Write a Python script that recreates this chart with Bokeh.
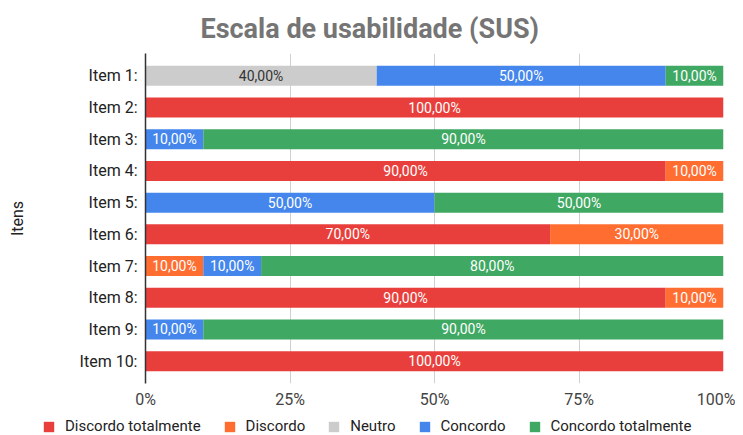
from bokeh.plotting import figure
from bokeh.layouts import column
from bokeh.models import (ColumnDataSource, Legend, LegendItem, FactorRange, Range1d,
                          FixedTicker, PrintfTickFormatter)
from bokeh.core.properties import value
from bokeh.embed import file_html
from bokeh.resources import INLINE

items = ["Item 1:", "Item 2:", "Item 3:", "Item 4:", "Item 5:",
         "Item 6:", "Item 7:", "Item 8:", "Item 9:", "Item 10:"]
series = ["Discordo totalmente", "Discordo", "Neutro", "Concordo", "Concordo totalmente"]
discordo_totalmente = [0, 100, 0, 90, 0, 70, 0, 90, 0, 100]
discordo = [0, 0, 0, 10, 0, 30, 10, 10, 0, 0]
neutro = [40, 0, 0, 0, 0, 0, 0, 0, 0, 0]
concordo = [50, 0, 10, 0, 50, 0, 10, 0, 10, 0]
concordo_totalmente = [10, 0, 90, 0, 50, 0, 80, 0, 90, 0]
x_ticks = [0, 25, 50, 75, 100]

colors = ["#e93f3c", "#ff6d31", "#cccccc", "#4486ec", "#3fa862"]
label_colors = ["white", "white", "#333333", "white", "white"]
FONT = "Roboto"

values = [discordo_totalmente, discordo, neutro, concordo, concordo_totalmente]
data = {"items": items}
for name, vals in zip(series, values):
    data[name] = vals
source = ColumnDataSource(data)

p = figure(width=735, height=411, output_backend="svg", toolbar_location=None,
           y_range=FactorRange(factors=items[::-1], range_padding=0.205,
                               range_padding_units="absolute"),
           x_range=Range1d(0, 100),
           min_border_left=145, min_border_right=12, min_border_top=53, min_border_bottom=25)
p.frame_align = False

renderers = p.hbar_stack(series, y="items", height=0.63, color=colors,
                         line_color=None, source=source)

# segment labels
lx, ly, lt, lc = [], [], [], []
cum = [0] * len(items)
for k, vals in enumerate(values):
    for i, v in enumerate(vals):
        if v > 0:
            lx.append(cum[i] + v / 2)
            ly.append(items[i])
            lt.append(("%.2f" % v).replace(".", ",") + "%")
            lc.append(label_colors[k])
        cum[i] += v
p.text(x="x", y="y", text="t", text_color="c",
       source=ColumnDataSource(dict(x=lx, y=ly, t=lt, c=lc)),
       text_align="center", text_baseline="middle",
       text_font=value(FONT), text_font_size="14px")

# title
p.title.text = "Escala de usabilidade (SUS)"
p.title.align = "left"
p.title.offset = 55
p.title.standoff = 18
p.title.text_font = FONT
p.title.text_font_size = "27px"
p.title.text_font_style = "bold"
p.title.text_color = "#757575"

# axes
p.xaxis.ticker = FixedTicker(ticks=x_ticks)
p.xaxis.formatter = PrintfTickFormatter(format="%d%%")
p.xaxis.axis_line_color = None
p.xaxis.major_tick_line_color = None
p.xaxis.minor_tick_line_color = None
p.xaxis.major_tick_out = 0
p.xaxis.major_tick_in = 0
p.xaxis.major_label_text_font = FONT
p.xaxis.major_label_text_font_size = "16px"
p.xaxis.major_label_text_color = "#444444"
p.xaxis.major_label_standoff = 6

p.yaxis.axis_line_color = "#333333"
p.yaxis.axis_line_width = 1.5
p.yaxis.major_tick_line_color = None
p.yaxis.minor_tick_line_color = None
p.yaxis.major_tick_out = 0
p.yaxis.major_tick_in = 0
p.yaxis.major_label_text_font = FONT
p.yaxis.major_label_text_font_size = "16px"
p.yaxis.major_label_text_color = "#222222"
p.yaxis.major_label_standoff = 8
p.yaxis.axis_label = "Itens"
p.yaxis.axis_label_text_font = FONT
p.yaxis.axis_label_text_font_size = "16px"
p.yaxis.axis_label_text_font_style = "normal"
p.yaxis.axis_label_text_color = "#222222"
p.yaxis.axis_label_standoff = 50

p.xgrid.ticker = FixedTicker(ticks=x_ticks)
p.xgrid.grid_line_color = "#d0d0d0"
p.ygrid.grid_line_color = None
p.outline_line_color = None

# legend strip below the chart (its bars map to no visible row)
p2 = figure(width=735, height=24, output_backend="svg", toolbar_location=None,
            x_range=Range1d(0, 100), y_range=FactorRange(factors=["legenda"]),
            x_axis_location=None, y_axis_location=None,
            min_border_left=0, min_border_right=0, min_border_top=0, min_border_bottom=0)
p2.frame_align = False
p2.grid.visible = False
p2.outline_line_color = None
legend_renderers = p2.hbar_stack(series, y="items", height=0.5, color=colors,
                                 line_color=None, source=source)
legend = Legend(items=[LegendItem(label=s, renderers=[r])
                       for s, r in zip(series, legend_renderers)],
                orientation="horizontal", location=(42, 0),
                border_line_color=None, background_fill_alpha=0,
                glyph_width=13, glyph_height=13, label_standoff=10, spacing=22,
                label_text_font=FONT, label_text_font_size="15px",
                label_text_color="#222222", padding=0, margin=0)
p2.add_layout(legend)

layout = column(p, p2, spacing=0)
open("out.html", "w").write(file_html(layout, INLINE))
